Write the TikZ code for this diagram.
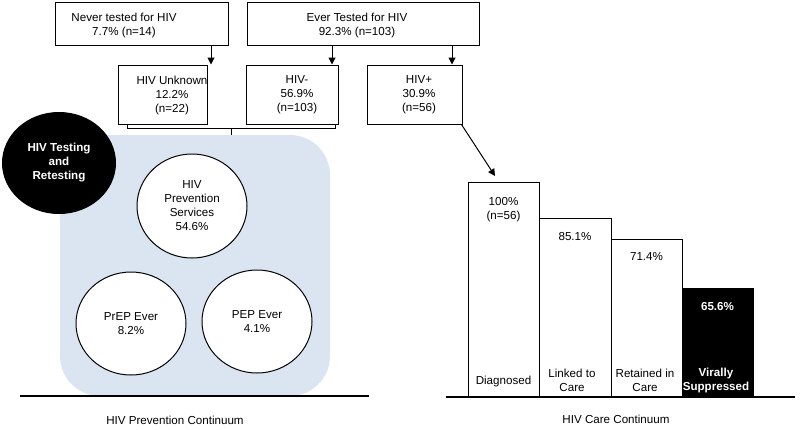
\documentclass[tikz,border=0pt]{standalone}
\usepackage{fontspec}
\setmainfont{Liberation Sans}
\usetikzlibrary{arrows.meta,shapes.geometric}
\definecolor{panelblue}{RGB}{219,229,241}
\begin{document}
\begin{tikzpicture}[x=1pt,y=-1pt,
  font=\fontsize{11.6}{14}\selectfont,
  box/.style={draw, line width=1pt, rectangle, inner sep=0pt},
  txt/.style={align=center, inner sep=0pt},
  circ/.style={draw, line width=1pt, ellipse, fill=white, inner sep=0pt, align=center},
  arr/.style={line width=1pt, -{Triangle[length=7pt,width=7pt]}},
  thin/.style={line width=0.8pt},
  bar/.style={box, anchor=south west}
]
\useasboundingbox (0,0) rectangle (800,429);

% top boxes
\node[box, minimum width=173pt, minimum height=43pt] (never) at (141.5,23.5) {};
\node[txt] (nevert) at (124,25) {Never tested for HIV\\7.7\% (n=14)};
\node[box, minimum width=232pt, minimum height=43pt] (ever) at (363,23.5) {};
\node[txt] (evert) at (357,25) {Ever Tested for HIV\\92.3\% (n=103)};

\node[box, minimum width=89pt, minimum height=59pt] (unk) at (162.5,94.5) {};
\node[txt] (unkt) at (172,95) {HIV Unknown\\12.2\%\\(n=22)};
\node[box, minimum width=92pt, minimum height=59pt] (neg) at (292,94.5) {};
\node[txt] (negt) at (297,95) {HIV-\\56.9\%\\(n=103)};
\node[box, minimum width=95pt, minimum height=59pt] (pos) at (414.5,94.5) {};
\node[txt] (post) at (419,95) {HIV+\\30.9\%\\(n=56)};

\coordinate (a1) at (211,0);
\coordinate (a2) at (332,0);
\coordinate (a3) at (452,0);
\draw[arr] (never.south -| a1) -- (unk.north -| a1);
\draw[arr] (ever.south -| a2) -- (neg.north -| a2);
\draw[arr] (ever.south -| a3) -- (pos.north -| a3);

% blue panel
\fill[panelblue, rounded corners=40pt] (60,135) rectangle (330,396);

% brace
\coordinate (bl) at (127,124);
\coordinate (br) at (335,124);
\coordinate (bm) at (231,128);
\coordinate (bt) at (231,135);
\draw[thin] (bl) -- (127,128) -- (335,128) -- (br);
\draw[thin] (bm) -- (bt);

% circles
\node[circ, fill=black, draw=black, text=white, font=\fontsize{11.6}{14}\selectfont\bfseries,
  minimum width=113pt, minimum height=101pt] (test) at (59,163) {HIV Testing\\and\\Retesting};
\node[circ, minimum width=110pt, minimum height=104pt] (hps) at (192,206) {HIV\\Prevention\\Services\\54.6\%};
\node[circ, minimum width=110pt, minimum height=103pt] (prep) at (131,323.5) {PrEP Ever\\8.2\%};
\node[circ, minimum width=110pt, minimum height=103pt] (pep) at (257,321.5) {PEP Ever\\4.1\%};

% baselines
\coordinate (l1) at (20,396);
\coordinate (l2) at (369,396);
\coordinate (r1) at (446,397);
\coordinate (r2) at (795,397);
\draw[line width=1.2pt] (l1) -- (l2);
\node[txt] (prevlab) at (175,420) {HIV Prevention Continuum};

% bars
\node[bar, minimum width=71pt, minimum height=214pt] (b1) at (468,397) {};
\node[bar, minimum width=72pt, minimum height=178pt] (b2) at (539,397) {};
\node[bar, minimum width=71pt, minimum height=157pt] (b3) at (611,397) {};
\node[bar, fill=black, minimum width=71pt, minimum height=108pt] (b4) at (682,397) {};
\draw[line width=1.2pt] (r1) -- (r2);

\node[txt] (b1t) at (503.5,210) {100\%\\(n=56)};
\node[txt] (b2t) at (575,237) {85.1\%};
\node[txt] (b3t) at (646.5,257) {71.4\%};
\node[txt, text=white, font=\fontsize{11.6}{14}\selectfont\bfseries] (b4t) at (717.5,306) {65.6\%};

\node[txt] (b1b) at (503.5,381) {Diagnosed};
\node[txt] (b2b) at (572,380) {Linked to\\Care};
\node[txt] (b3b) at (645,380) {Retained in\\Care};
\node[txt, text=white, font=\fontsize{11.6}{14}\selectfont\bfseries] (b4b) at (716,380) {Virally\\Suppressed};

\node[txt] (carelab) at (616,419) {HIV Care Continuum};

% arrow HIV+ to care
\coordinate (ct) at (495,176);
\draw[arr] (pos.south east) ++(-1,0) -- (ct);
\end{tikzpicture}
\end{document}
